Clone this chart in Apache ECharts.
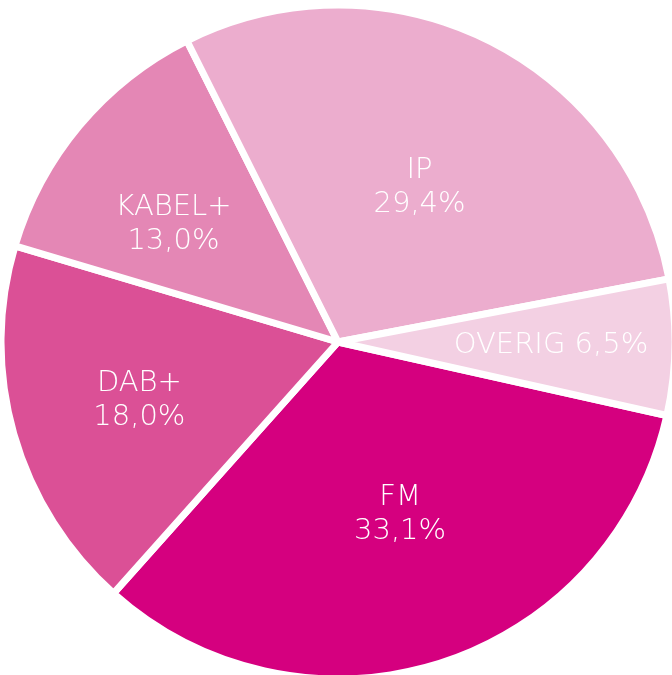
<!DOCTYPE html>
<html>
<head>
<meta charset="utf-8">
<script src="https://cdn.jsdelivr.net/npm/echarts@6/dist/echarts.min.js"></script>
<style>
  html, body { margin: 0; padding: 0; background: #fff; }
  #main { width: 672px; height: 675px; }
</style>
</head>
<body>
<div id="main"></div>
<script>
// data
var categories = ['FM', 'DAB+', 'KABEL+', 'IP', 'OVERIG'];
var shares = [33.1, 18.0, 13.0, 29.4, 6.5];
var labelText = ['FM\n33,1%', 'DAB+\n18,0%', 'KABEL+\n13,0%', 'IP\n29,4%', 'OVERIG 6,5%'];
var colors = ['#d5007f', '#db5096', '#e487b5', '#ecadce', '#f3d0e3'];

// label placement: distance from centre (px) and small angle nudge (deg)
var labelDist = [183, 207, 202, 175, 213];
var labelTurn = [2, 0.5, 4.5, -1.5, 0];
var cx = 338, cy = 342;

var myChart = echarts.init(document.getElementById('main'));

var pieData = categories.map(function (c, i) {
  return { name: c, value: shares[i], itemStyle: { color: colors[i] } };
});

option = {
  animation: false,
  series: [
    {
      type: 'pie',
      center: [cx, cy],
      radius: [0, 337],
      startAngle: -12.6,
      clockwise: true,
      itemStyle: { borderColor: '#fff', borderWidth: 7 },
      label: {
        show: true,
        position: 'inside',
        color: '#fff',
        fontFamily: 'DejaVu Sans',
        fontWeight: 200,
        fontSize: 29,
        lineHeight: 34,
        formatter: function (p) { return labelText[p.dataIndex]; }
      },
      labelLine: { show: false },
      labelLayout: function (p) {
        var r = p.labelRect;
        var lx = r.x + r.width / 2, ly = r.y + r.height / 2;
        var a = Math.atan2(ly - cy, lx - cx) - labelTurn[p.dataIndex] * Math.PI / 180;
        var d = labelDist[p.dataIndex];
        return { dx: cx + d * Math.cos(a) - lx, dy: cy + d * Math.sin(a) - ly };
      },
      data: pieData
    }
  ]
};

myChart.setOption(option);
</script>
</body>
</html>
